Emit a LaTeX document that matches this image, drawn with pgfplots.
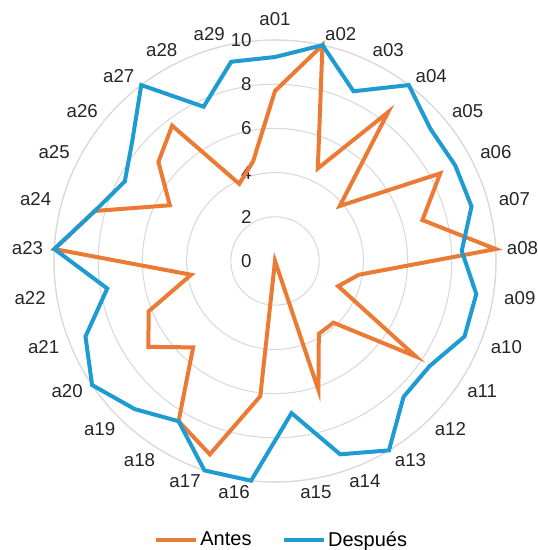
\documentclass[border=0pt]{standalone}
\usepackage{pgfplots}
\pgfplotsset{compat=1.18}
\usepgfplotslibrary{polar}
\usepackage{fontspec}
\setmainfont{Liberation Sans}
\definecolor{antes}{HTML}{EB7A35}
\definecolor{despues}{HTML}{1E9CD2}
\definecolor{gridc}{HTML}{D9D9D9}
\begin{document}
\begin{tikzpicture}
\useasboundingbox (-206.25pt,195.75pt) rectangle (197.25pt,-216.75pt);
\begin{polaraxis}[
  at={(0,0)}, anchor=origin,
  scale only axis, width=331.5pt, height=331.5pt,
  xmin=90, xmax=450, ymin=0, ymax=10,
  xtick=\empty,
  ytick={0,2,4,6,8,10},
  xmajorgrids=false, ymajorgrids=true,
  major grid style={gridc, line width=0.8pt},
  separate axis lines,
  x axis line style={gridc, line width=0.8pt},
  y axis line style={draw=none},
  major tick length=0pt,
  tick label style={font=\fontsize{14}{16}\selectfont, text=black!85},
  /pgf/number format/assume math mode=true,
  yticklabel style={anchor=east, xshift=-14pt},
  legend style={at={(0.516,-0.131)}, anchor=center, draw=none, legend columns=2,
    font=\fontsize{15}{17}\selectfont, /tikz/every even column/.append style={column sep=21pt}},
  legend image code/.code={\draw[#1, line width=2.6pt] (0cm,0cm) -- (1.05cm,0cm);},
  clip=false,
]
\addplot[antes, line width=3pt, line join=miter, no marks] coordinates {
(450,7.692) (437.586,10) (425.172,4.615) (412.759,8.462) (400.345,3.846) (387.931,8.462) (375.517,6.923) (363.103,10) (350.690,3.846) (338.276,3.077) (325.862,7.692) (313.448,3.846) (301.034,3.846) (288.621,6.154) (276.207,0) (263.793,6.154) (251.379,9.231) (238.966,8.462) (226.552,5.385) (214.138,6.923) (201.724,6.154) (189.310,3.846) (176.897,10) (164.483,8.462) (152.069,5.385) (139.655,6.923) (127.241,7.692) (114.828,3.846) (102.414,4.615) (90,7.692)
} -- cycle;
\addlegendentry{Antes}
\addplot[despues, line width=3pt, line join=miter, no marks] coordinates {
(450,9.231) (437.586,10) (425.172,8.462) (412.759,10) (400.345,9.231) (387.931,9.231) (375.517,9.231) (363.103,8.462) (350.690,9.231) (338.276,9.231) (325.862,8.462) (313.448,8.462) (301.034,10) (288.621,9.231) (276.207,6.923) (263.793,10) (251.379,10) (238.966,8.462) (226.552,9.231) (214.138,10) (201.724,9.231) (189.310,7.692) (176.897,10) (164.483,8.462) (152.069,7.692) (139.655,8.462) (127.241,10) (114.828,7.692) (102.414,9.231) (90,9.231)
} -- cycle;
\addlegendentry{Después}
\begin{scope}[every node/.style={inner sep=0pt, font=\fontsize{14}{16}\selectfont, text=black!85}]
\node[anchor=south] at (axis cs:90,10.65) {a01};
\node[anchor=west] at (axis cs:437.586,10.5) {a02};
\node[anchor=west] at (axis cs:425.172,10.5) {a03};
\node[anchor=west] at (axis cs:412.759,10.5) {a04};
\node[anchor=west] at (axis cs:400.345,10.5) {a05};
\node[anchor=west] at (axis cs:387.931,10.5) {a06};
\node[anchor=west] at (axis cs:375.517,10.5) {a07};
\node[anchor=west] at (axis cs:363.103,10.5) {a08};
\node[anchor=west] at (axis cs:350.690,10.5) {a09};
\node[anchor=west] at (axis cs:338.276,10.5) {a10};
\node[anchor=west] at (axis cs:325.862,10.5) {a11};
\node[anchor=west] at (axis cs:313.448,10.5) {a12};
\node[anchor=west] at (axis cs:301.034,10.5) {a13};
\node[anchor=west] at (axis cs:288.621,10.5) {a14};
\node[anchor=west] at (axis cs:276.207,10.5) {a15};
\node[anchor=east] at (axis cs:263.793,10.5) {a16};
\node[anchor=east] at (axis cs:251.379,10.5) {a17};
\node[anchor=east] at (axis cs:238.966,10.5) {a18};
\node[anchor=east] at (axis cs:226.552,10.5) {a19};
\node[anchor=east] at (axis cs:214.138,10.5) {a20};
\node[anchor=east] at (axis cs:201.724,10.5) {a21};
\node[anchor=east] at (axis cs:189.310,10.5) {a22};
\node[anchor=east] at (axis cs:176.897,10.5) {a23};
\node[anchor=east] at (axis cs:164.483,10.5) {a24};
\node[anchor=east] at (axis cs:152.069,10.5) {a25};
\node[anchor=east] at (axis cs:139.655,10.5) {a26};
\node[anchor=east] at (axis cs:127.241,10.5) {a27};
\node[anchor=east] at (axis cs:114.828,10.5) {a28};
\node[anchor=east] at (axis cs:102.414,10.5) {a29};
\end{scope}
\end{polaraxis}
\end{tikzpicture}
\end{document}
